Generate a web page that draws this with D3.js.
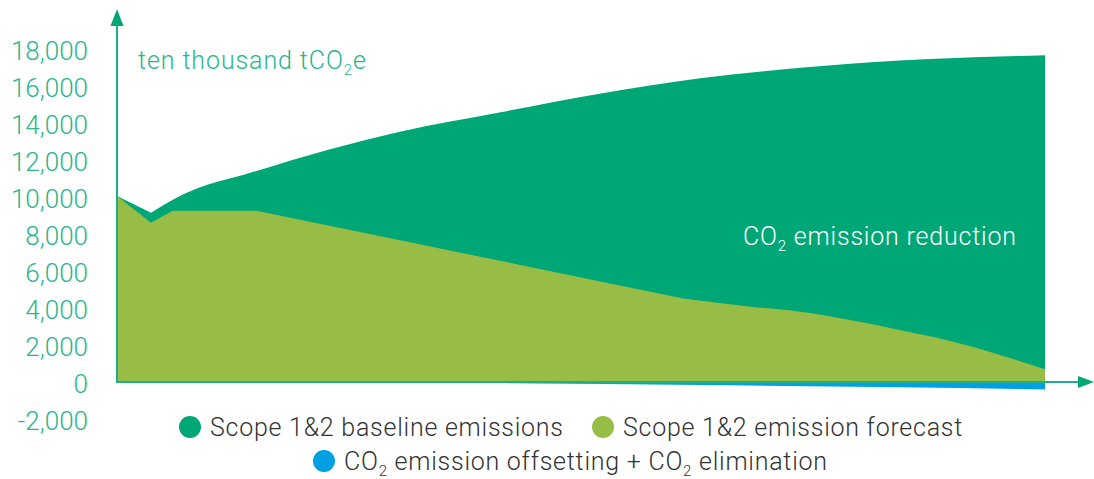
<!DOCTYPE html>
<html>
<head>
<meta charset="utf-8">
<script src="https://cdn.jsdelivr.net/npm/d3@7"></script>
<style>
  body { margin: 0; background: #fff; }
  svg { display: block; font-family: Roboto, "Noto Sans", sans-serif; }
</style>
</head>
<body>
<div id="chart"></div>
<script>
// years (fractional where the curve bends between years)
var baselineYears  = [2020, 2021.1, 2021.94, 2022.6, 2024.07, 2026.8, 2029.15, 2032.4, 2035.6, 2038.85, 2042.1, 2045.3, 2048.5, 2050];
var baselineValues = [10050, 9150, 9970, 10470, 11190, 12540, 13530, 14580, 15580, 16420, 16980, 17380, 17590, 17660];

var forecastYears  = [2020, 2021.1, 2021.8, 2024.5, 2038.3, 2040.5, 2042.1, 2043.7, 2045.3, 2046.8, 2050];
var forecastValues = [10050, 8610, 9260, 9260, 4520, 4070, 3800, 3350, 2810, 2270, 690];

var offsetYears  = [2020, 2029, 2032.4, 2038.85, 2045.3, 2050];
var offsetValues = [0, -30, -60, -160, -290, -400];

// where each series stops having sharp corners and turns into a smooth curve
var baselineSmoothFrom = 2021.1;
var forecastSmoothFrom = 2038.3;

var yTicks = [-2000, 0, 2000, 4000, 6000, 8000, 10000, 12000, 14000, 16000, 18000];

var colors = { baseline: "#00a776", forecast: "#97bd46", offset: "#00a0e3", axis: "#1fae8a", label: "#2bb58d" };

var width = 1094, height = 479;

var svg = d3.select("#chart").append("svg")
	.attr("width", width)
	.attr("height", height);

var x = d3.scaleLinear().domain([2020, 2050]).range([117, 1045]);
var y = d3.scaleLinear().domain([-2000, 18000]).range([419, 49]);

function zip(xs, vs) {
	return xs.map(function(d, i) { return { year: d, value: vs[i] }; });
}

function lineGen(curve) {
	return d3.line()
		.curve(curve)
		.x(function(d) { return x(d.year); })
		.y(function(d) { return y(d.value); });
}

// one closed path: straight-edged top first, then a smooth top, down to zero
function seriesPath(data, smoothFrom) {
	var sharp = data.filter(function(d) { return d.year <= smoothFrom; });
	var smooth = data.filter(function(d) { return d.year >= smoothFrom; });
	var first = data[0], last = data[data.length - 1];
	return lineGen(d3.curveLinear)(sharp)
		+ lineGen(d3.curveMonotoneX)(smooth).replace(/^M/, "L")
		+ "L" + x(last.year) + "," + y(0)
		+ "L" + x(first.year) + "," + y(0) + "Z";
}

svg.append("path")
	.attr("d", seriesPath(zip(baselineYears, baselineValues), baselineSmoothFrom))
	.attr("fill", colors.baseline);
svg.append("path")
	.attr("d", seriesPath(zip(forecastYears, forecastValues), forecastSmoothFrom))
	.attr("fill", colors.forecast);

var offsetArea = d3.area()
	.curve(d3.curveMonotoneX)
	.x(function(d) { return x(d.year); })
	.y0(y(0))
	.y1(function(d) { return y(d.value); });
svg.append("path").datum(zip(offsetYears, offsetValues))
	.attr("d", offsetArea).attr("fill", colors.offset);

// y tick labels
var fmt = d3.format(",");
var yAxis = svg.append("g")
	.attr("transform", "translate(88,2)")
	.call(d3.axisLeft(y).tickValues(yTicks).tickSize(0).tickPadding(0)
		.tickFormat(function(d) { return fmt(d).replace("\u2212", "-"); }));
yAxis.select(".domain").remove();
yAxis.selectAll("text")
	.attr("fill", colors.label)
	.style("font-size", "26px")
	.style("font-weight", 300)
	.style("font-family", "Roboto, sans-serif");

// axis lines with arrows
var x0 = x(2020), yZero = y(0);
svg.append("line")
	.attr("x1", x0).attr("x2", x0)
	.attr("y1", yZero + 1).attr("y2", 24)
	.attr("stroke", colors.axis).attr("stroke-width", 2);
svg.append("path")
	.attr("d", "M" + x0 + ",9L" + (x0 + 6.5) + ",26L" + (x0 - 6.5) + ",26Z")
	.attr("fill", colors.baseline);
svg.append("line")
	.attr("x1", x0 - 1).attr("x2", 1086)
	.attr("y1", yZero).attr("y2", yZero)
	.attr("stroke", colors.axis).attr("stroke-width", 2);
svg.append("path")
	.attr("d", "M1094," + yZero + "L1078," + (yZero - 6) + "L1078," + (yZero + 6) + "Z")
	.attr("fill", colors.baseline);

// unit label
var unit = svg.append("text")
	.attr("x", 138).attr("y", 69)
	.attr("fill", colors.label)
	.style("font-size", "25px").style("font-weight", 300)
	.style("letter-spacing", "0.9px");
unit.append("tspan").text("ten thousand tCO");
unit.append("tspan").text("2").style("font-size", "15px").attr("dy", 6);
unit.append("tspan").text("e").attr("dy", -6);

// in-area label
var red = svg.append("text")
	.attr("x", 743).attr("y", 245)
	.attr("fill", "#fff")
	.style("font-size", "25px").style("font-weight", 300)
	.style("letter-spacing", "0.8px");
red.append("tspan").text("CO");
red.append("tspan").text("2").style("font-size", "15px").attr("dy", 6);
red.append("tspan").text(" emission reduction").attr("dy", -6);

// legend
var legend = [
	{ cx: 190, cy: 427, color: colors.baseline, parts: ["Scope 1&2 baseline emissions"] },
	{ cx: 603, cy: 427, color: colors.forecast, parts: ["Scope 1&2 emission forecast"] },
	{ cx: 324, cy: 461, color: colors.offset, parts: ["CO", "2", " emission offsetting + CO", "2", " elimination"] }
];

var items = svg.selectAll(".legend")
	.data(legend)
	.enter().append("g")
	.attr("class", "legend");

items.append("circle")
	.attr("cx", function(d) { return d.cx; })
	.attr("cy", function(d) { return d.cy; })
	.attr("r", 11)
	.attr("fill", function(d) { return d.color; });

items.append("text")
	.attr("x", function(d) { return d.cx + 20; })
	.attr("y", function(d) { return d.cy + 9; })
	.attr("fill", "#333")
	.style("font-size", "25px")
	.style("font-weight", 300)
	.style("letter-spacing", "0.75px")
	.each(function(d) {
		var t = d3.select(this);
		d.parts.forEach(function(p, i) {
			var sub = (i % 2 == 1);
			t.append("tspan")
				.text(p)
				.style("font-size", sub ? "15px" : null)
				.attr("dy", i == 0 ? 0 : (sub ? 6 : -6));
		});
	});
</script>
</body>
</html>
